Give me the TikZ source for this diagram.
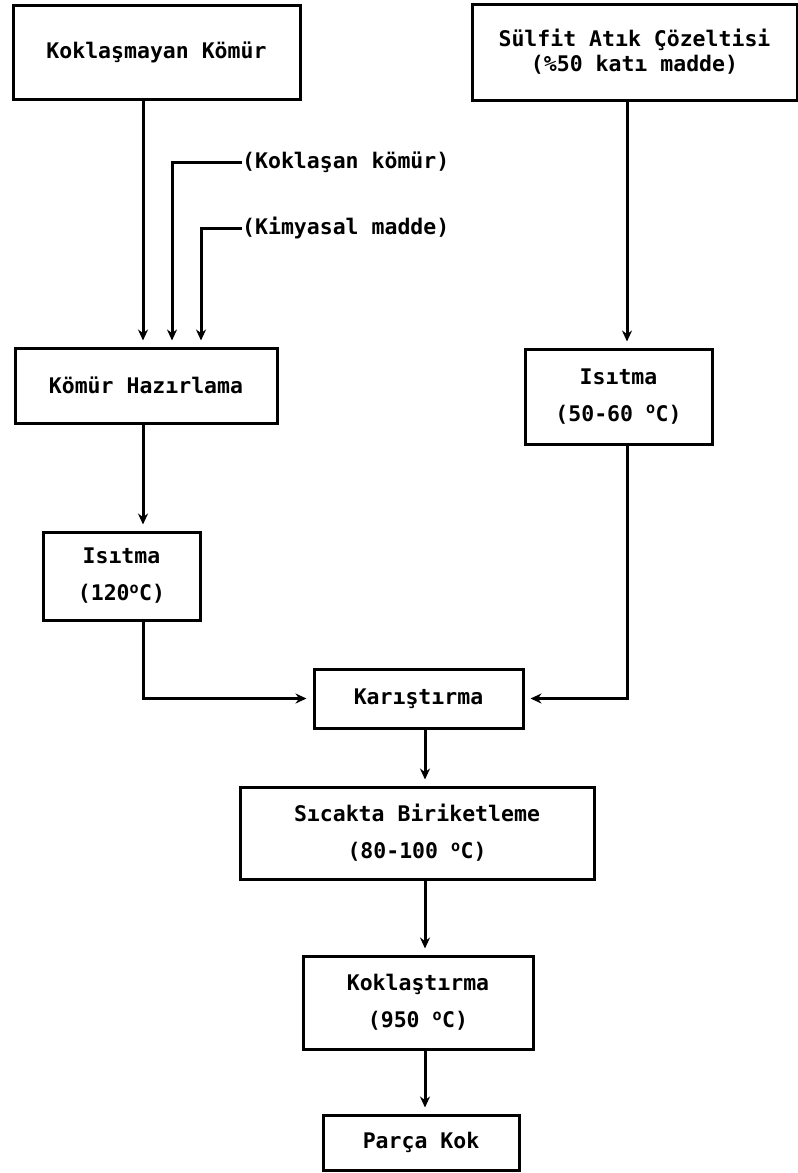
\documentclass[tikz,border=0pt]{standalone}
\usepackage{fontspec}
\setmainfont{DejaVu Sans Mono}
\usetikzlibrary{arrows.meta}
\begin{document}
\begin{tikzpicture}[x=1pt,y=-1pt,
  box/.style={draw, line width=3pt, inner sep=0pt, align=center, font=\fontsize{21.5}{37}\selectfont\bfseries},
  lbl/.style={inner sep=0pt, anchor=west, font=\fontsize{21.5}{26}\selectfont\bfseries},
  arr/.style={line width=3pt, -{Stealth[length=11pt,width=10pt]}, shorten >=6pt}]
\useasboundingbox (0,0) rectangle (798,1173);
\node[box, minimum width=287pt, minimum height=94pt] (b1) at (156.5,52) {Koklaşmayan Kömür};
\node[box, minimum width=325pt, minimum height=96pt, font=\fontsize{21.5}{25}\selectfont\bfseries] (b2) at (634.5,52) {Sülfit Atık Çözeltisi\\(\%50 katı madde)};
\node[box, minimum width=262pt, minimum height=75pt] (b3) at (146,385.5) {Kömür Hazırlama};
\node[box, minimum width=187pt, minimum height=95pt] (b4) at (618.5,396.5) {Isıtma\\(50-60 \textsuperscript{o}C)};
\node[box, minimum width=157pt, minimum height=88pt] (b5) at (121.5,576) {Isıtma\\(120\textsuperscript{o}C)};
\node[box, minimum width=209pt, minimum height=59pt] (b6) at (418.5,698.5) {Karıştırma};
\node[box, minimum width=354pt, minimum height=92pt] (b7) at (417,833) {Sıcakta Biriketleme\\(80-100 \textsuperscript{o}C)};
\node[box, minimum width=230pt, minimum height=93pt] (b8) at (418,1002.5) {Koklaştırma\\(950 \textsuperscript{o}C)};
\node[box, minimum width=196pt, minimum height=55pt] (b9) at (421,1142.5) {Parça Kok};
\node[lbl] (l1) at (242,162) {(Koklaşan kömür)};
\node[lbl] (l2) at (242,228) {(Kimyasal madde)};
\coordinate (xa) at (143,0);
\coordinate (xb) at (172,0);
\coordinate (xc) at (201,0);
\coordinate (xd) at (627,0);
\coordinate (xe) at (425,0);
\draw[arr] (b1.south -| xa) -- (b3.north -| xa);
\draw[arr] (l1.west) -| (b3.north -| xb);
\draw[arr] (l2.west) -| (b3.north -| xc);
\draw[arr] (b2.south -| xd) -- (b4.north -| xd);
\draw[arr] (b3.south -| xa) -- (b5.north -| xa);
\draw[arr] (b5.south -| xa) |- (b6.west);
\draw[arr] (b4.south -| xd) |- (b6.east);
\draw[arr] (b6.south -| xe) -- (b7.north -| xe);
\draw[arr] (b7.south -| xe) -- (b8.north -| xe);
\draw[arr] (b8.south -| xe) -- (b9.north -| xe);
\end{tikzpicture}
\end{document}
